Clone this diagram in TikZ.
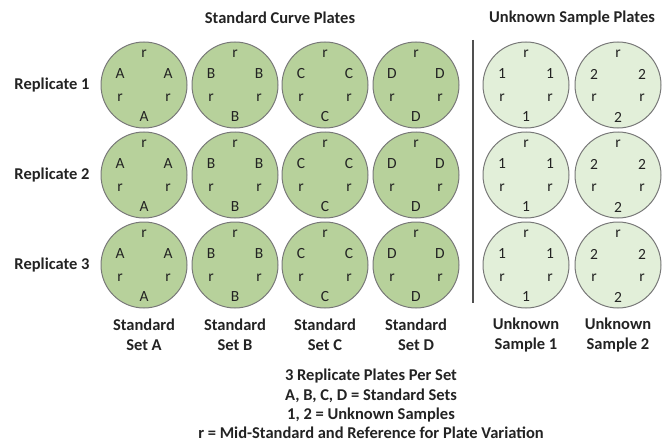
\documentclass[tikz,border=0pt]{standalone}
\usepackage{fontspec}
\setmainfont{Carlito}
\usetikzlibrary{calc}
\definecolor{stdfill}{RGB}{183,209,155}
\definecolor{unkfill}{RGB}{226,239,217}
\definecolor{rim}{RGB}{120,120,120}
\definecolor{ink}{RGB}{35,35,35}
\definecolor{sepcol}{RGB}{80,80,80}
\begin{document}
\begin{tikzpicture}[x=1pt,y=-1pt,
  plate/.style={circle,draw=rim,line width=1pt,minimum size=86pt,inner sep=0pt},
  stdplate/.style={plate,fill=stdfill},
  unkplate/.style={plate,fill=unkfill},
  well/.style={font=\fontsize{15.5}{15.5}\selectfont,text=ink,inner sep=0pt},
  lbl/.style={font=\bfseries\fontsize{16.5}{19.5}\selectfont,text=ink,align=center,inner sep=0pt}]
\useasboundingbox (0,0) rectangle (664,444);
\node[lbl] (t1) at (280,18) {Standard Curve Plates};
\node[lbl] (t2) at (572,18) {Unknown Sample Plates};
\foreach \r/\y in {1/85,2/175,3/265}{
  \node[lbl] (rep\r) at (52,\y) {Replicate \r};
  \foreach \c/\x/\s/\t in {1/144/A/stdplate,2/235/B/stdplate,3/325/C/stdplate,4/416/D/stdplate,5/526/1/unkplate,6/618/2/unkplate}{
    \node[\t] (p\r\c) at (\x,\y) {};
    \node[well] (p\r\c t) at ($(\x,\y)+(0,-31)$) {r};
    \node[well] (p\r\c l) at ($(\x,\y)+(-24,-11)$) {\s};
    \node[well] (p\r\c rr) at ($(\x,\y)+(24,-11)$) {\s};
    \node[well] (p\r\c bl) at ($(\x,\y)+(-24,13)$) {r};
    \node[well] (p\r\c br) at ($(\x,\y)+(24,13)$) {r};
    \node[well] (p\r\c b) at ($(\x,\y)+(0,32)$) {\s};
  }
}
\coordinate (sepTop) at (473,40);
\coordinate (sepBot) at (473,303);
\draw[sepcol,line width=1.8pt] (sepTop) -- (sepBot);
\node[lbl] (s1) at (144,335) {Standard\\Set A};
\node[lbl] (s2) at (235,335) {Standard\\Set B};
\node[lbl] (s3) at (325,335) {Standard\\Set C};
\node[lbl] (s4) at (416,335) {Standard\\Set D};
\node[lbl] (u1) at (526,335) {Unknown\\Sample 1};
\node[lbl] (u2) at (618,335) {Unknown\\Sample 2};
\node[lbl,font=\bfseries\fontsize{16.5}{19.3}\selectfont] (legend) at (371,404) {3 Replicate Plates Per Set\\A, B, C, D = Standard Sets\\1, 2 = Unknown Samples\\r = Mid-Standard and Reference for Plate Variation};
\end{tikzpicture}
\end{document}
